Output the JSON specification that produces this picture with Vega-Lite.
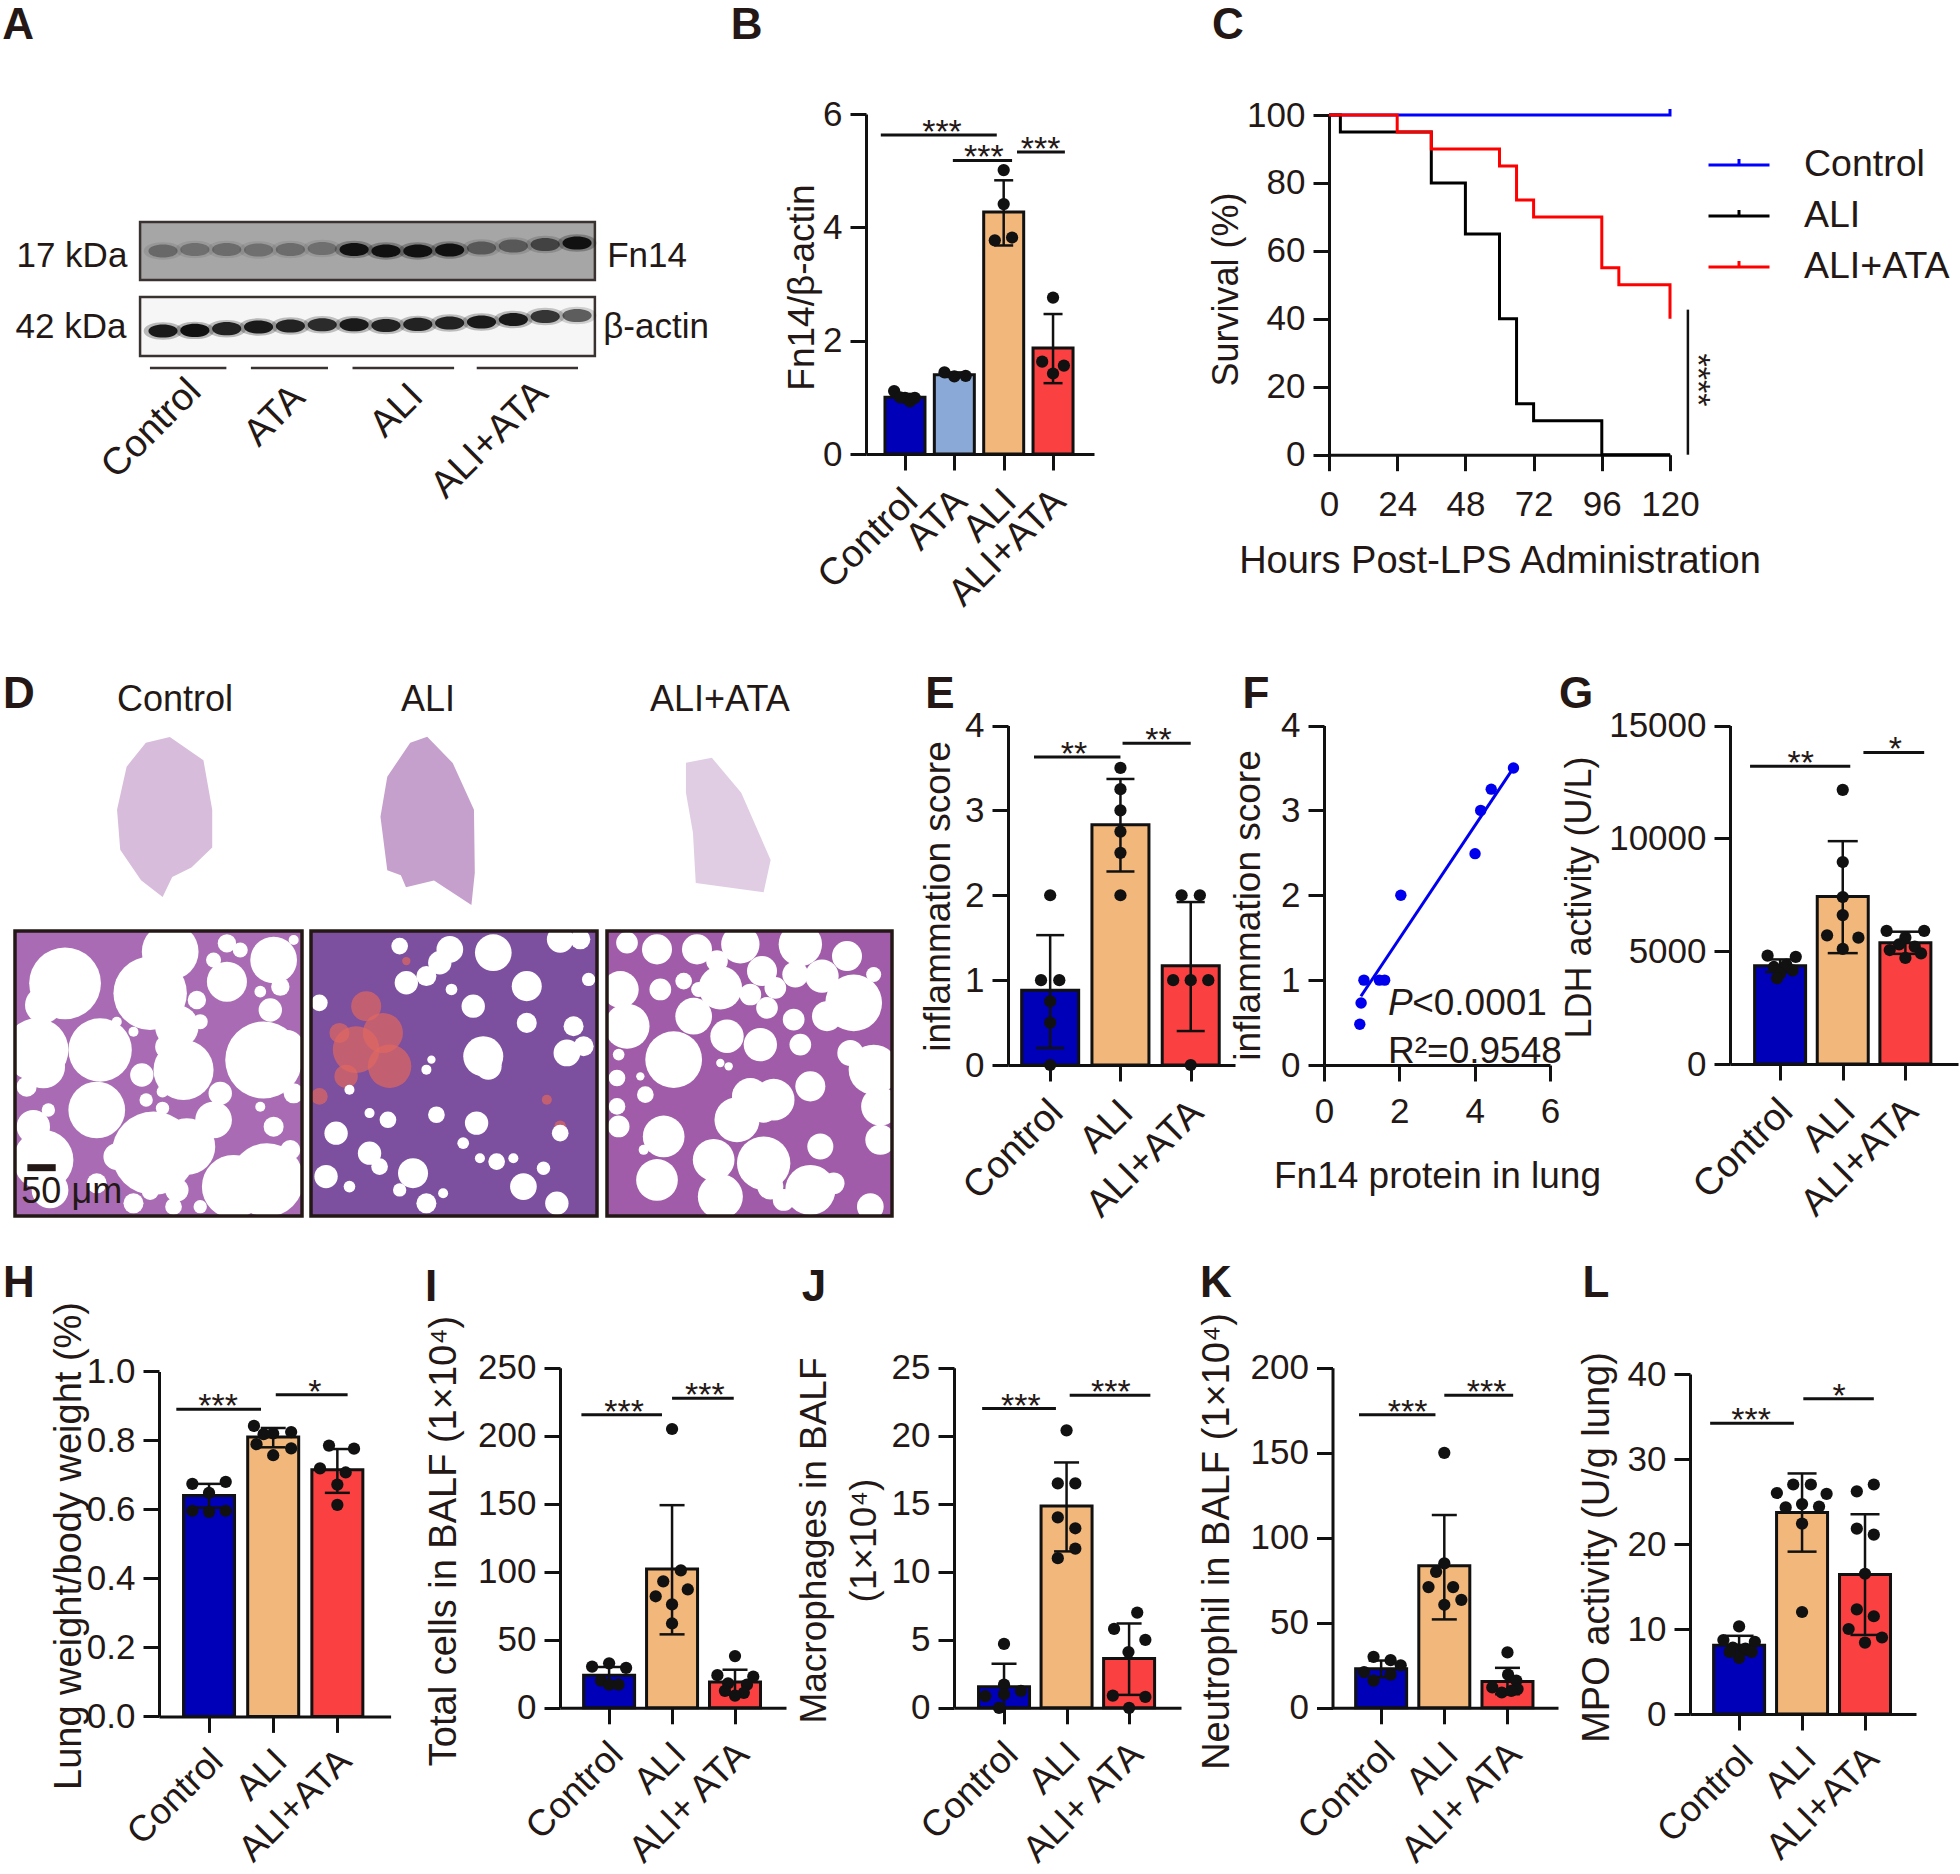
{
"$schema":"https://vega.github.io/schema/vega-lite/v6.json",
"width":1960,"height":1874,"padding":0,"autosize":{"type":"none"},"background":"white",
"config":{"font":"Liberation Sans","view":{"stroke":null},"axis":{"grid":false,"domainColor":"#111","domainWidth":3,"tickColor":"#111","tickWidth":3,"tickSize":16,"labelColor":"#231815","titleColor":"#231815","labelFontSize":35,"titleFontSize":37,"titleFontWeight":"normal","labelPadding":8,"labelOverlap":false,"labelBound":false,"labelFlush":false,"labelFont":"Liberation Sans","titleFont":"Liberation Sans","titleBaseline":"middle","tickRound":true},"text":{"font":"Liberation Sans","color":"#231815"}},
"resolve":{"scale":{"x":"independent","y":"independent"},"axis":{"x":"independent","y":"independent"}},
"layer":[
{"data":{"values":[
{"kind":"frame","x":0.28,"x2":14.56,"y":0,"y2":43.3,"c":"#a6a6a6"},{"kind":"frame","x":0.28,"x2":14.56,"y":56,"y2":100,"c":"#f6f6f6"},
{"kind":"band","x":1,"y":21.6,"s":0.35},{"kind":"band","x":2,"y":20.5,"s":0.3},{"kind":"band","x":3,"y":20.5,"s":0.32},{"kind":"band","x":4,"y":20.9,"s":0.3},{"kind":"band","x":5,"y":20.5,"s":0.32},{"kind":"band","x":6,"y":19.8,"s":0.3},{"kind":"band","x":7,"y":20.5,"s":1},{"kind":"band","x":8,"y":21.6,"s":1},{"kind":"band","x":9,"y":21.6,"s":1},{"kind":"band","x":10,"y":20.9,"s":1},{"kind":"band","x":11,"y":19.4,"s":0.45},{"kind":"band","x":12,"y":17.9,"s":0.45},{"kind":"band","x":13,"y":16.8,"s":0.6},{"kind":"band","x":14,"y":15.7,"s":1},
{"kind":"band","x":1,"y":81.3,"s":0.95},{"kind":"band","x":2,"y":80.9,"s":1},{"kind":"band","x":3,"y":79.6,"s":0.9},{"kind":"band","x":4,"y":78.4,"s":0.95},{"kind":"band","x":5,"y":77.6,"s":0.9},{"kind":"band","x":6,"y":76.7,"s":0.85},{"kind":"band","x":7,"y":76.7,"s":0.95},{"kind":"band","x":8,"y":77.2,"s":0.9},{"kind":"band","x":9,"y":76.4,"s":0.9},{"kind":"band","x":10,"y":75.4,"s":0.9},{"kind":"band","x":11,"y":74.6,"s":0.95},{"kind":"band","x":12,"y":72.8,"s":0.95},{"kind":"band","x":13,"y":70.5,"s":0.8},{"kind":"band","x":14,"y":69.8,"s":0.6},
{"kind":"line","x":0.59,"x2":2.99,"y":109},{"kind":"line","x":3.76,"x2":6.18,"y":109},{"kind":"line","x":6.95,"x2":10.14,"y":109},{"kind":"line","x":10.85,"x2":14.03,"y":109},
{"kind":"label","x":-1.86,"y":25.4,"t":"17 kDa"},{"kind":"label","x":-1.89,"y":78.4,"t":"42 kDa"},{"kind":"label","x":16.2,"y":25.4,"t":"Fn14"},{"kind":"label","x":16.48,"y":78.4,"t":"β-actin"},
{"kind":"rot","x":0.65,"y":154.5,"t":"Control"},{"kind":"rot","x":4.52,"y":144.8,"t":"ATA"},{"kind":"rot","x":8.35,"y":141,"t":"ALI"},{"kind":"rot","x":11.27,"y":162.7,"t":"ALI+ATA"}
]},
"encoding":{"x":{"field":"x","type":"quantitative","axis":null,"scale":{"domain":[0,15],"range":[131.15,608.9],"nice":false}},"y":{"field":"y","type":"quantitative","axis":null,"stack":null,"scale":{"domain":[0,100],"range":[222,356],"nice":false}}},
"layer":[
{"transform":[{"filter":"datum.kind=='frame'"}],"mark":{"type":"rect","stroke":"#3a3230","strokeWidth":2.5},"encoding":{"x2":{"field":"x2"},"y2":{"field":"y2"},"fill":{"field":"c","type":"nominal","scale":null}}},
{"transform":[{"filter":"datum.kind=='band'"}],"mark":{"type":"point","filled":true,"color":"#111","size":1500,"shape":"M-1,0C-1,-0.6 1,-0.6 1,0C1,0.6 -1,0.6 -1,0Z"},"encoding":{"fillOpacity":{"field":"s","type":"quantitative","legend":null,"scale":{"domain":[0,1],"range":[0,0.4]}}}},
{"transform":[{"filter":"datum.kind=='band'"}],"mark":{"type":"point","filled":true,"color":"#111","size":850,"shape":"M-1,0C-1,-0.6 1,-0.6 1,0C1,0.6 -1,0.6 -1,0Z"},"encoding":{"opacity":{"field":"s","type":"quantitative","legend":null,"scale":{"domain":[0,1],"range":[0,1]}}}},
{"transform":[{"filter":"datum.kind=='line'"}],"mark":{"type":"rule","color":"#3a3230","strokeWidth":2.5},"encoding":{"x2":{"field":"x2"}}},
{"transform":[{"filter":"datum.kind=='label'"}],"mark":{"type":"text","fontSize":35,"align":"center","baseline":"middle"},"encoding":{"text":{"field":"t"}}},
{"transform":[{"filter":"datum.kind=='rot'"}],"mark":{"type":"text","fontSize":38,"align":"center","baseline":"middle","angle":315},"encoding":{"text":{"field":"t"}}}
]},
{"data":{"values":[
{"kind":"t","x":0.92,"y":1.4,"t":"A"},{"kind":"t","x":38.1,"y":1.4,"t":"B"},{"kind":"t","x":62.65,"y":1.4,"t":"C"},{"kind":"t","x":0.97,"y":37.1,"t":"D"},{"kind":"t","x":47.96,"y":37.1,"t":"E"},{"kind":"t","x":64.08,"y":37.1,"t":"F"},{"kind":"t","x":80.41,"y":37.1,"t":"G"},{"kind":"t","x":0.97,"y":68.5,"t":"H"},{"kind":"t","x":21.99,"y":68.75,"t":"I"},{"kind":"t","x":41.53,"y":68.75,"t":"J"},{"kind":"t","x":62.04,"y":68.5,"t":"K"},{"kind":"t","x":81.43,"y":68.5,"t":"L"},
{"kind":"d","x":8.93,"y":37.35,"t":"Control"},{"kind":"d","x":21.84,"y":37.35,"t":"ALI"},{"kind":"d","x":36.73,"y":37.35,"t":"ALI+ATA"},
{"kind":"l1","x":8.42,"y":43.6},{"kind":"l2","x":21.84,"y":43.76},{"kind":"l3","x":37.14,"y":44.02}
]},
"encoding":{"x":{"field":"x","type":"quantitative","axis":null,"scale":{"domain":[0,100],"range":[0,1960],"nice":false}},"y":{"field":"y","type":"quantitative","axis":null,"stack":null,"scale":{"domain":[0,100],"range":[0,1874],"nice":false}}},
"layer":[
{"transform":[{"filter":"datum.kind=='t'"}],"mark":{"type":"text","fontSize":44,"fontWeight":"bold","align":"center","baseline":"middle"},"encoding":{"text":{"field":"t"}}},
{"transform":[{"filter":"datum.kind=='d'"}],"mark":{"type":"text","fontSize":36,"align":"center","baseline":"middle"},"encoding":{"text":{"field":"t"}}},
{"transform":[{"filter":"datum.kind=='l1'"}],"mark":{"type":"point","filled":true,"opacity":1,"color":"#d8bcdb","size":25600,"shape":"M0.06,-1L0.48,-0.71L0.59,-0.09L0.59,0.38L0.33,0.63L0.09,0.75L-0.03,1L-0.3,0.79L-0.56,0.41L-0.6,-0.09L-0.48,-0.63L-0.24,-0.93Z"}},
{"transform":[{"filter":"datum.kind=='l2'"}],"mark":{"type":"point","filled":true,"opacity":1,"color":"#c6a0cc","size":28900,"shape":"M-0.01,-0.98L0.29,-0.67L0.54,-0.12L0.55,0.62L0.51,1L0.07,0.71L-0.26,0.79L-0.32,0.65L-0.48,0.59L-0.56,-0.04L-0.48,-0.51L-0.21,-0.91Z"}},
{"transform":[{"filter":"datum.kind=='l3'"}],"mark":{"type":"point","filled":true,"opacity":1,"color":"#e0cde4","size":19600,"shape":"M-0.6,-0.89L-0.23,-0.96L0.19,-0.46L0.61,0.5L0.51,0.96L-0.46,0.83L-0.5,0.11L-0.6,-0.46Z"}}
]},
{"data":{"values":[
{"kind":"frame","x":45,"x2":905,"y":33,"y2":888},
{"kind":"hole","x":195,"y":190,"d":215},{"kind":"hole","x":130,"y":255,"d":110},{"kind":"hole","x":510,"y":95,"d":170},{"kind":"hole","x":450,"y":220,"d":220},{"kind":"hole","x":530,"y":320,"d":130},{"kind":"hole","x":680,"y":70,"d":55},{"kind":"hole","x":640,"y":120,"d":45},{"kind":"hole","x":720,"y":90,"d":45},{"kind":"hole","x":820,"y":120,"d":140},{"kind":"hole","x":880,"y":60,"d":30},{"kind":"hole","x":680,"y":185,"d":120},{"kind":"hole","x":590,"y":240,"d":55},{"kind":"hole","x":600,"y":305,"d":45},{"kind":"hole","x":810,"y":270,"d":70},{"kind":"hole","x":840,"y":200,"d":55},{"kind":"hole","x":780,"y":215,"d":35},{"kind":"hole","x":790,"y":420,"d":230},{"kind":"hole","x":860,"y":380,"d":100},{"kind":"hole","x":550,"y":450,"d":180},{"kind":"hole","x":500,"y":380,"d":70},{"kind":"hole","x":110,"y":390,"d":190},{"kind":"hole","x":300,"y":390,"d":190},{"kind":"hole","x":130,"y":440,"d":130},{"kind":"hole","x":80,"y":500,"d":60},{"kind":"hole","x":145,"y":570,"d":40},{"kind":"hole","x":290,"y":570,"d":170},{"kind":"hole","x":100,"y":620,"d":100},{"kind":"hole","x":460,"y":700,"d":250},{"kind":"hole","x":560,"y":680,"d":170},{"kind":"hole","x":350,"y":710,"d":80},{"kind":"hole","x":130,"y":720,"d":180},{"kind":"hole","x":800,"y":780,"d":220},{"kind":"hole","x":700,"y":800,"d":190},{"kind":"hole","x":820,"y":620,"d":60},{"kind":"hole","x":660,"y":520,"d":70},{"kind":"hole","x":530,"y":810,"d":70},{"kind":"hole","x":450,"y":815,"d":50},{"kind":"hole","x":400,"y":850,"d":60},{"kind":"hole","x":290,"y":790,"d":60},{"kind":"hole","x":520,"y":860,"d":50},{"kind":"hole","x":600,"y":860,"d":40},{"kind":"hole","x":425,"y":465,"d":70},{"kind":"hole","x":487,"y":515,"d":35},{"kind":"hole","x":438,"y":540,"d":40},{"kind":"hole","x":487,"y":565,"d":40},{"kind":"hole","x":400,"y":335,"d":30},{"kind":"hole","x":350,"y":305,"d":30},{"kind":"hole","x":150,"y":810,"d":110},{"kind":"hole","x":780,"y":560,"d":30},{"kind":"hole","x":640,"y":600,"d":110},{"kind":"hole","x":880,"y":520,"d":60},{"kind":"hole","x":870,"y":690,"d":60},
{"kind":"bar","x":82,"x2":167,"y":743},{"kind":"lab","x":215,"y":815,"t":"50 μm"}
]},
"encoding":{"x":{"field":"x","type":"quantitative","axis":null,"scale":{"domain":[45,905],"range":[15,302],"nice":false}},"y":{"field":"y","type":"quantitative","axis":null,"stack":null,"scale":{"domain":[33,888],"range":[931,1216],"nice":false}}},
"layer":[
{"transform":[{"filter":"datum.kind=='frame'"}],"mark":{"type":"rect","fill":"#a96cb4"},"encoding":{"x2":{"field":"x2"},"y2":{"field":"y2"}}},
{"transform":[{"filter":"datum.kind=='hole'"}],"mark":{"type":"point","filled":true,"opacity":1,"color":"white"},"encoding":{"size":{"field":"d","type":"quantitative","legend":null,"scale":{"type":"pow","exponent":2,"domain":[0,860],"range":[0,82369]}}}},
{"transform":[{"filter":"datum.kind=='frame'"}],"mark":{"type":"rect","fill":"transparent","stroke":"#231815","strokeWidth":3.5},"encoding":{"x2":{"field":"x2"},"y2":{"field":"y2"}}},
{"transform":[{"filter":"datum.kind=='bar'"}],"mark":{"type":"rule","color":"#231815","strokeWidth":7},"encoding":{"x2":{"field":"x2"}}},
{"transform":[{"filter":"datum.kind=='lab'"}],"mark":{"type":"text","fontSize":36,"align":"center","baseline":"middle"},"encoding":{"text":{"field":"t"}}}
]},
{"data":{"values":[
{"kind":"frame","x":35,"x2":890,"y":35,"y2":888},
{"kind":"or","x":170,"y":390,"d":140},{"kind":"or","x":270,"y":440,"d":130},{"kind":"or","x":250,"y":340,"d":120},{"kind":"or","x":200,"y":260,"d":90},{"kind":"or","x":60,"y":530,"d":50},{"kind":"or","x":140,"y":470,"d":70},{"kind":"or","x":320,"y":125,"d":25},{"kind":"or","x":780,"y":620,"d":35},{"kind":"or","x":740,"y":540,"d":30},{"kind":"or","x":120,"y":340,"d":60},
{"kind":"hole","x":300,"y":80,"d":50},{"kind":"hole","x":450,"y":90,"d":80},{"kind":"hole","x":420,"y":130,"d":70},{"kind":"hole","x":580,"y":100,"d":110},{"kind":"hole","x":320,"y":190,"d":70},{"kind":"hole","x":380,"y":170,"d":60},{"kind":"hole","x":455,"y":210,"d":35},{"kind":"hole","x":520,"y":260,"d":70},{"kind":"hole","x":680,"y":200,"d":90},{"kind":"hole","x":780,"y":60,"d":80},{"kind":"hole","x":840,"y":60,"d":60},{"kind":"hole","x":865,"y":180,"d":40},{"kind":"hole","x":680,"y":310,"d":60},{"kind":"hole","x":820,"y":320,"d":60},{"kind":"hole","x":800,"y":400,"d":80},{"kind":"hole","x":850,"y":380,"d":60},{"kind":"hole","x":60,"y":250,"d":50},{"kind":"hole","x":550,"y":410,"d":120},{"kind":"hole","x":565,"y":440,"d":80},{"kind":"hole","x":380,"y":450,"d":30},{"kind":"hole","x":395,"y":420,"d":25},{"kind":"hole","x":150,"y":510,"d":30},{"kind":"hole","x":210,"y":580,"d":30},{"kind":"hole","x":265,"y":600,"d":50},{"kind":"hole","x":410,"y":585,"d":50},{"kind":"hole","x":110,"y":640,"d":70},{"kind":"hole","x":530,"y":610,"d":70},{"kind":"hole","x":490,"y":670,"d":35},{"kind":"hole","x":780,"y":640,"d":50},{"kind":"hole","x":210,"y":700,"d":70},{"kind":"hole","x":240,"y":740,"d":50},{"kind":"hole","x":80,"y":770,"d":70},{"kind":"hole","x":150,"y":800,"d":35},{"kind":"hole","x":340,"y":760,"d":90},{"kind":"hole","x":300,"y":810,"d":40},{"kind":"hole","x":590,"y":725,"d":50},{"kind":"hole","x":540,"y":715,"d":30},{"kind":"hole","x":640,"y":715,"d":30},{"kind":"hole","x":670,"y":800,"d":80},{"kind":"hole","x":770,"y":850,"d":70},{"kind":"hole","x":380,"y":850,"d":60},{"kind":"hole","x":430,"y":820,"d":30},{"kind":"hole","x":730,"y":745,"d":40}
]},
"encoding":{"x":{"field":"x","type":"quantitative","axis":null,"scale":{"domain":[35,890],"range":[311,597],"nice":false}},"y":{"field":"y","type":"quantitative","axis":null,"stack":null,"scale":{"domain":[35,888],"range":[931,1216],"nice":false}}},
"layer":[
{"transform":[{"filter":"datum.kind=='frame'"}],"mark":{"type":"rect","fill":"#7c4f9f"},"encoding":{"x2":{"field":"x2"},"y2":{"field":"y2"}}},
{"transform":[{"filter":"datum.kind=='or'"}],"mark":{"type":"point","filled":true,"opacity":0.7,"color":"#e0685f"},"encoding":{"size":{"field":"d","type":"quantitative","legend":null,"scale":{"type":"pow","exponent":2,"domain":[0,860],"range":[0,82369]}}}},
{"transform":[{"filter":"datum.kind=='hole'"}],"mark":{"type":"point","filled":true,"opacity":1,"color":"white"},"encoding":{"size":{"field":"d","type":"quantitative","legend":null,"scale":{"type":"pow","exponent":2,"domain":[0,860],"range":[0,82369]}}}},
{"transform":[{"filter":"datum.kind=='frame'"}],"mark":{"type":"rect","fill":"transparent","stroke":"#231815","strokeWidth":3.5},"encoding":{"x2":{"field":"x2"},"y2":{"field":"y2"}}}
]},
{"data":{"values":[
{"kind":"frame","x":40,"x2":895,"y":35,"y2":888},
{"kind":"hole","x":190,"y":90,"d":90},{"kind":"hole","x":310,"y":90,"d":90},{"kind":"hole","x":440,"y":75,"d":115},{"kind":"hole","x":620,"y":75,"d":130},{"kind":"hole","x":100,"y":70,"d":65},{"kind":"hole","x":370,"y":125,"d":65},{"kind":"hole","x":505,"y":155,"d":90},{"kind":"hole","x":605,"y":165,"d":78},{"kind":"hole","x":685,"y":170,"d":100},{"kind":"hole","x":760,"y":110,"d":90},{"kind":"hole","x":840,"y":165,"d":45},{"kind":"hole","x":200,"y":210,"d":65},{"kind":"hole","x":270,"y":185,"d":50},{"kind":"hole","x":315,"y":210,"d":45},{"kind":"hole","x":380,"y":205,"d":130},{"kind":"hole","x":470,"y":225,"d":65},{"kind":"hole","x":545,"y":205,"d":65},{"kind":"hole","x":520,"y":265,"d":65},{"kind":"hole","x":600,"y":300,"d":65},{"kind":"hole","x":80,"y":210,"d":110},{"kind":"hole","x":780,"y":250,"d":170},{"kind":"hole","x":300,"y":290,"d":110},{"kind":"hole","x":100,"y":320,"d":135},{"kind":"hole","x":400,"y":350,"d":100},{"kind":"hole","x":500,"y":375,"d":100},{"kind":"hole","x":620,"y":375,"d":65},{"kind":"hole","x":700,"y":290,"d":90},{"kind":"hole","x":770,"y":400,"d":78},{"kind":"hole","x":840,"y":450,"d":150},{"kind":"hole","x":860,"y":560,"d":115},{"kind":"hole","x":240,"y":420,"d":170},{"kind":"hole","x":75,"y":405,"d":35},{"kind":"hole","x":380,"y":430,"d":25},{"kind":"hole","x":405,"y":440,"d":25},{"kind":"hole","x":70,"y":475,"d":50},{"kind":"hole","x":155,"y":525,"d":50},{"kind":"hole","x":140,"y":470,"d":25},{"kind":"hole","x":650,"y":500,"d":90},{"kind":"hole","x":470,"y":530,"d":110},{"kind":"hole","x":540,"y":540,"d":125},{"kind":"hole","x":430,"y":600,"d":135},{"kind":"hole","x":510,"y":570,"d":78},{"kind":"hole","x":210,"y":650,"d":125},{"kind":"hole","x":75,"y":620,"d":65},{"kind":"hole","x":70,"y":560,"d":50},{"kind":"hole","x":150,"y":690,"d":30},{"kind":"hole","x":360,"y":720,"d":125},{"kind":"hole","x":510,"y":730,"d":160},{"kind":"hole","x":680,"y":680,"d":78},{"kind":"hole","x":190,"y":780,"d":125},{"kind":"hole","x":380,"y":830,"d":135},{"kind":"hole","x":650,"y":810,"d":150},{"kind":"hole","x":530,"y":800,"d":78},{"kind":"hole","x":720,"y":790,"d":65},{"kind":"hole","x":570,"y":840,"d":65},{"kind":"hole","x":830,"y":860,"d":80},{"kind":"hole","x":860,"y":660,"d":90}
]},
"encoding":{"x":{"field":"x","type":"quantitative","axis":null,"scale":{"domain":[40,895],"range":[607,892],"nice":false}},"y":{"field":"y","type":"quantitative","axis":null,"stack":null,"scale":{"domain":[35,888],"range":[931,1216],"nice":false}}},
"layer":[
{"transform":[{"filter":"datum.kind=='frame'"}],"mark":{"type":"rect","fill":"#a05ca8"},"encoding":{"x2":{"field":"x2"},"y2":{"field":"y2"}}},
{"transform":[{"filter":"datum.kind=='hole'"}],"mark":{"type":"point","filled":true,"opacity":1,"color":"white"},"encoding":{"size":{"field":"d","type":"quantitative","legend":null,"scale":{"type":"pow","exponent":2,"domain":[0,860],"range":[0,82369]}}}},
{"transform":[{"filter":"datum.kind=='frame'"}],"mark":{"type":"rect","fill":"transparent","stroke":"#231815","strokeWidth":3.5},"encoding":{"x2":{"field":"x2"},"y2":{"field":"y2"}}}
]},
{"data":{"values":[
{"kind":"bar","x":1,"group":"Control","y":1.0,"lo":0.95,"hi":1.06},{"kind":"bar","x":2,"group":"ATA","y":1.4,"lo":1.36,"hi":1.44},{"kind":"bar","x":3,"group":"ALI","y":4.27,"lo":3.68,"hi":4.83},{"kind":"bar","x":4,"group":"ALI+ATA","y":1.87,"lo":1.25,"hi":2.47},
{"kind":"pt","x":0.78,"y":1.11},{"kind":"pt","x":1,"y":0.99},{"kind":"pt","x":1.1,"y":0.93},{"kind":"pt","x":0.9,"y":1.0},{"kind":"pt","x":1.2,"y":0.99},
{"kind":"pt","x":1.8,"y":1.44},{"kind":"pt","x":2,"y":1.37},{"kind":"pt","x":2.23,"y":1.38},
{"kind":"pt","x":3,"y":5.01},{"kind":"pt","x":3,"y":4.41},{"kind":"pt","x":2.82,"y":3.77},{"kind":"pt","x":3.17,"y":3.82},
{"kind":"pt","x":4,"y":2.76},{"kind":"pt","x":3.78,"y":1.63},{"kind":"pt","x":4.22,"y":1.56},{"kind":"pt","x":4,"y":1.42},
{"kind":"sig","x":0.51,"x2":2.86,"y":5.63},{"kind":"sig","x":1.97,"x2":3.17,"y":5.18},{"kind":"sig","x":3.27,"x2":4.24,"y":5.33},
{"kind":"star","x":1.75,"y":5.63,"t":"***"},{"kind":"star","x":2.6,"y":5.18,"t":"***"},{"kind":"star","x":3.75,"y":5.33,"t":"***"}
]},
"encoding":{"x":{"field":"x","type":"quantitative","scale":{"domain":[0.21,4.83],"range":[866,1094],"nice":false,"padding":0},"axis":{"orient":"bottom","offset":-1420,"values":[1,2,3,4],"labelExpr":"['Control','ATA','ALI','ALI+ATA'][datum.value-1]","labelAngle":-45,"labelAlign":"right","labelBaseline":"top","labelFontSize":38,"labelPadding":12,"labelOffset":-7,"title":null}},
"y":{"field":"y","type":"quantitative","stack":null,"scale":{"domain":[0,6],"range":[454,114],"nice":false},"axis":{"orient":"left","offset":-866,"values":[0,2,4,6],"title":"Fn14/β-actin","titleFontSize":37,"titleX":-64,"titleY":287}}},
"layer":[
{"transform":[{"filter":"datum.kind=='bar'"}],"mark":{"type":"bar","orient":"vertical","width":40,"stroke":"#111","strokeWidth":3},"encoding":{"fill":{"field":"group","type":"nominal","legend":null,"scale":{"domain":["Control","ATA","ALI","ALI+ATA"],"range":["#0000b8","#8aa9d6","#f2b77a","#fa4040"]}}}},
{"transform":[{"filter":"datum.kind=='bar'"}],"mark":{"type":"rule","color":"#111","strokeWidth":2.5},"encoding":{"y2":{"field":"hi"}}},
{"transform":[{"filter":"datum.kind=='bar'"}],"mark":{"type":"rule","color":"#111","strokeWidth":2.5},"encoding":{"y2":{"field":"lo"}}},
{"transform":[{"filter":"datum.kind=='bar'"},{"fold":["lo","hi"],"as":["k","y"]}],"mark":{"type":"tick","orient":"horizontal","size":19,"thickness":2.5,"color":"#111","opacity":1}},
{"transform":[{"filter":"datum.kind=='pt'"}],"mark":{"type":"point","filled":true,"opacity":1,"color":"#111","size":150}},
{"transform":[{"filter":"datum.kind=='sig'"}],"mark":{"type":"rule","color":"#111","strokeWidth":3},"encoding":{"x2":{"field":"x2"}}},
{"transform":[{"filter":"datum.kind=='star'"}],"mark":{"type":"text","fontSize":34,"align":"center","baseline":"alphabetic","dy":8},"encoding":{"text":{"field":"t"}}}
]},
{"data":{"values":[
{"s":"Control","h":0,"p":100},{"s":"Control","h":120,"p":100},{"s":"Control","h":120,"p":101.8},
{"s":"ALI","h":0,"p":100},{"s":"ALI","h":4,"p":95},{"s":"ALI","h":36,"p":80},{"s":"ALI","h":48,"p":65},{"s":"ALI","h":60,"p":40},{"s":"ALI","h":66,"p":15},{"s":"ALI","h":72,"p":10},{"s":"ALI","h":96,"p":0},{"s":"ALI","h":120,"p":0},
{"s":"ALI+ATA","h":0,"p":100},{"s":"ALI+ATA","h":24,"p":95},{"s":"ALI+ATA","h":36,"p":90},{"s":"ALI+ATA","h":60,"p":85},{"s":"ALI+ATA","h":66,"p":75},{"s":"ALI+ATA","h":72,"p":70},{"s":"ALI+ATA","h":96,"p":55},{"s":"ALI+ATA","h":102,"p":50},{"s":"ALI+ATA","h":120,"p":50},{"s":"ALI+ATA","h":120,"p":40}
]},
"encoding":{"x":{"field":"h","type":"quantitative","scale":{"domain":[0,120],"range":[1329,1670],"nice":false},"axis":{"orient":"bottom","offset":-1419.3,"values":[0,24,48,72,96,120],"labelAngle":0,"labelAlign":"center","labelPadding":17,"title":"Hours Post-LPS Administration","titleFontSize":38,"titleY":107}},
"y":{"field":"p","type":"quantitative","stack":null,"scale":{"domain":[0,100],"range":[454.7,115],"nice":false},"axis":{"orient":"left","offset":-1329,"values":[0,20,40,60,80,100],"title":"Survival (%)","titleFontSize":36,"titleX":-103,"titleY":289}}},
"layer":[
{"mark":{"type":"line","interpolate":"step-after","strokeWidth":3},"encoding":{"stroke":{"field":"s","type":"nominal","scale":{"domain":["Control","ALI","ALI+ATA"],"range":["#0000ff","#000000","#ff0000"]},"legend":{"orient":"none","legendX":1707,"legendY":133,"title":null,"symbolType":"M-1,0L1,0M0,0L0,-0.2","symbolSize":3721,"symbolStrokeWidth":3,"labelFontSize":37.5,"labelColor":"#231815","labelOffset":33,"rowPadding":-14,"labelFont":"Liberation Sans"}}}}
]},
{"data":{"values":[{"h":126.3,"p":0,"p2":42.7},{"h":129.5,"p":22,"t":"****"}]},
"encoding":{"x":{"field":"h","type":"quantitative","axis":null,"scale":{"domain":[0,120],"range":[1329,1670],"nice":false}},"y":{"field":"p","type":"quantitative","axis":null,"stack":null,"scale":{"domain":[0,100],"range":[454.7,115],"nice":false}}},
"layer":[
{"transform":[{"filter":"datum.p2>0"}],"mark":{"type":"rule","color":"#111","strokeWidth":2.5},"encoding":{"y2":{"field":"p2"}}},
{"transform":[{"filter":"isValid(datum.t)"}],"mark":{"type":"text","fontSize":34,"angle":90,"align":"center","baseline":"middle"},"encoding":{"text":{"field":"t"}}}
]},
{"data":{"values":[
{"kind":"bar","x":1,"group":"Control","y":0.88,"lo":0.2,"hi":1.53},{"kind":"bar","x":2,"group":"ALI","y":2.83,"lo":2.28,"hi":3.37},{"kind":"bar","x":3,"group":"ALI+ATA","y":1.17,"lo":0.4,"hi":1.92},
{"kind":"pt","x":1,"y":2},{"kind":"pt","x":0.87,"y":1},{"kind":"pt","x":1.13,"y":1},{"kind":"pt","x":1,"y":0.75},{"kind":"pt","x":1,"y":0.5},{"kind":"pt","x":1,"y":0},
{"kind":"pt","x":2,"y":3.5},{"kind":"pt","x":2,"y":3.25},{"kind":"pt","x":2,"y":3},{"kind":"pt","x":2,"y":2.75},{"kind":"pt","x":2,"y":2.5},{"kind":"pt","x":2,"y":2},
{"kind":"pt","x":2.87,"y":2},{"kind":"pt","x":3.13,"y":2},{"kind":"pt","x":2.75,"y":1},{"kind":"pt","x":3,"y":1},{"kind":"pt","x":3.25,"y":1},{"kind":"pt","x":3,"y":0},
{"kind":"sig","x":0.77,"x2":2,"y":3.63},{"kind":"sig","x":2.03,"x2":3,"y":3.79},
{"kind":"star","x":1.34,"y":3.63,"t":"**"},{"kind":"star","x":2.54,"y":3.79,"t":"**"}
]},
"encoding":{"x":{"field":"x","type":"quantitative","scale":{"domain":[0.4,3.63],"range":[1008,1235],"nice":false,"padding":0},"axis":{"orient":"bottom","offset":-809,"values":[1,2,3],"labelExpr":"['Control','ALI','ALI+ATA'][datum.value-1]","labelAngle":-45,"labelAlign":"right","labelBaseline":"top","labelFontSize":38,"labelPadding":12,"labelOffset":-7,"title":null}},
"y":{"field":"y","type":"quantitative","stack":null,"scale":{"domain":[0,4],"range":[1065,725.5],"nice":false},"axis":{"orient":"left","offset":-1008,"values":[0,1,2,3,4],"title":"inflammation score","titleX":-70,"titleY":896}}},
"layer":[
{"transform":[{"filter":"datum.kind=='bar'"}],"mark":{"type":"bar","orient":"vertical","width":57,"stroke":"#111","strokeWidth":3},"encoding":{"fill":{"field":"group","type":"nominal","legend":null,"scale":{"domain":["Control","ATA","ALI","ALI+ATA"],"range":["#0000b8","#8aa9d6","#f2b77a","#fa4040"]}}}},
{"transform":[{"filter":"datum.kind=='bar'"}],"mark":{"type":"rule","color":"#111","strokeWidth":2.5},"encoding":{"y2":{"field":"hi"}}},
{"transform":[{"filter":"datum.kind=='bar'"}],"mark":{"type":"rule","color":"#111","strokeWidth":2.5},"encoding":{"y2":{"field":"lo"}}},
{"transform":[{"filter":"datum.kind=='bar'"},{"fold":["lo","hi"],"as":["k","y"]}],"mark":{"type":"tick","orient":"horizontal","size":28,"thickness":2.5,"color":"#111","opacity":1}},
{"transform":[{"filter":"datum.kind=='pt'"}],"mark":{"type":"point","filled":true,"opacity":1,"color":"#111","size":150}},
{"transform":[{"filter":"datum.kind=='sig'"}],"mark":{"type":"rule","color":"#111","strokeWidth":3},"encoding":{"x2":{"field":"x2"}}},
{"transform":[{"filter":"datum.kind=='star'"}],"mark":{"type":"text","fontSize":34,"align":"center","baseline":"alphabetic","dy":8},"encoding":{"text":{"field":"t"}}}
]},
{"data":{"values":[
{"kind":"pt","x":0.95,"y":0.48},{"kind":"pt","x":0.985,"y":0.73},{"kind":"pt","x":1.06,"y":1},{"kind":"pt","x":1.47,"y":1},{"kind":"pt","x":1.61,"y":1},{"kind":"pt","x":2.04,"y":2},{"kind":"pt","x":4.01,"y":2.49},{"kind":"pt","x":4.16,"y":3},{"kind":"pt","x":4.44,"y":3.25},{"kind":"pt","x":5.03,"y":3.5},
{"kind":"fit","x":0.98,"y":0.81},{"kind":"fit","x":5.03,"y":3.5},
{"kind":"it","x":1.7,"y":0.72,"t":"P"},{"kind":"tx","x":2.34,"y":0.72,"t":"<0.0001"},{"kind":"tx","x":1.7,"y":0.15,"t":"R²=0.9548"}
]},
"encoding":{"x":{"field":"x","type":"quantitative","scale":{"domain":[0,6],"range":[1324,1550],"nice":false},"axis":{"orient":"bottom","offset":-809,"values":[0,2,4,6],"labelAngle":0,"labelAlign":"center","labelPadding":13,"title":"Fn14 protein in lung","titleY":111}},
"y":{"field":"y","type":"quantitative","stack":null,"scale":{"domain":[0,4],"range":[1065,725.5],"nice":false},"axis":{"orient":"left","offset":-1324,"values":[0,1,2,3,4],"title":"inflammation score","titleX":-76,"titleY":905}}},
"layer":[
{"transform":[{"filter":"datum.kind=='fit'"}],"mark":{"type":"line","color":"#0000ee","strokeWidth":3}},
{"transform":[{"filter":"datum.kind=='pt'"}],"mark":{"type":"point","filled":true,"opacity":1,"color":"#0000ee","size":130}},
{"transform":[{"filter":"datum.kind=='it'"}],"mark":{"type":"text","fontSize":37,"fontStyle":"italic","align":"left","baseline":"middle"},"encoding":{"text":{"field":"t"}}},
{"transform":[{"filter":"datum.kind=='tx'"}],"mark":{"type":"text","fontSize":37,"align":"left","baseline":"middle"},"encoding":{"text":{"field":"t"}}}
]},
{"data":{"values":[
{"kind":"bar","x":1,"group":"Control","y":4356,"lo":4080,"hi":4634},{"kind":"bar","x":2,"group":"ALI","y":7418,"lo":4913,"hi":9875},{"kind":"bar","x":3,"group":"ALI+ATA","y":5371,"lo":4880,"hi":5862},
{"kind":"pt","x":0.8,"y":4800},{"kind":"pt","x":1.25,"y":4750},{"kind":"pt","x":1.1,"y":4400},{"kind":"pt","x":0.9,"y":4300},{"kind":"pt","x":1.2,"y":4150},{"kind":"pt","x":1,"y":4000},{"kind":"pt","x":0.95,"y":3800},
{"kind":"pt","x":2,"y":12150},{"kind":"pt","x":2,"y":8950},{"kind":"pt","x":2,"y":7400},{"kind":"pt","x":2,"y":6600},{"kind":"pt","x":1.75,"y":5700},{"kind":"pt","x":2.25,"y":5600},{"kind":"pt","x":2,"y":5100},
{"kind":"pt","x":2.7,"y":5900},{"kind":"pt","x":3.3,"y":5900},{"kind":"pt","x":3,"y":5600},{"kind":"pt","x":2.9,"y":5300},{"kind":"pt","x":3.15,"y":5200},{"kind":"pt","x":2.75,"y":5050},{"kind":"pt","x":3.25,"y":4900},{"kind":"pt","x":3,"y":4700},
{"kind":"sig","x":0.52,"x2":2.12,"y":13197},{"kind":"sig","x":2.33,"x2":3.3,"y":13805},
{"kind":"star","x":1.33,"y":13197,"t":"**"},{"kind":"star","x":2.84,"y":13805,"t":"*"}
]},
"encoding":{"x":{"field":"x","type":"quantitative","scale":{"domain":[0.2,3.84],"range":[1730,1958],"nice":false,"padding":0},"axis":{"orient":"bottom","offset":-810,"values":[1,2,3],"labelExpr":"['Control','ALI','ALI+ATA'][datum.value-1]","labelAngle":-45,"labelAlign":"right","labelBaseline":"top","labelFontSize":38,"labelPadding":12,"labelOffset":-7,"title":null}},
"y":{"field":"y","type":"quantitative","stack":null,"scale":{"domain":[0,15000],"range":[1064,725.5],"nice":false},"axis":{"orient":"left","offset":-1730,"values":[0,5000,10000,15000],"format":"d","title":"LDH activity (U/L)","titleFontSize":36,"titleX":-150.5,"titleY":897}}},
"layer":[
{"transform":[{"filter":"datum.kind=='bar'"}],"mark":{"type":"bar","orient":"vertical","width":51,"stroke":"#111","strokeWidth":3},"encoding":{"fill":{"field":"group","type":"nominal","legend":null,"scale":{"domain":["Control","ATA","ALI","ALI+ATA"],"range":["#0000b8","#8aa9d6","#f2b77a","#fa4040"]}}}},
{"transform":[{"filter":"datum.kind=='bar'"}],"mark":{"type":"rule","color":"#111","strokeWidth":2.5},"encoding":{"y2":{"field":"hi"}}},
{"transform":[{"filter":"datum.kind=='bar'"}],"mark":{"type":"rule","color":"#111","strokeWidth":2.5},"encoding":{"y2":{"field":"lo"}}},
{"transform":[{"filter":"datum.kind=='bar'"},{"fold":["lo","hi"],"as":["k","y"]}],"mark":{"type":"tick","orient":"horizontal","size":30,"thickness":2.5,"color":"#111","opacity":1}},
{"transform":[{"filter":"datum.kind=='pt'"}],"mark":{"type":"point","filled":true,"opacity":1,"color":"#111","size":150}},
{"transform":[{"filter":"datum.kind=='sig'"}],"mark":{"type":"rule","color":"#111","strokeWidth":3},"encoding":{"x2":{"field":"x2"}}},
{"transform":[{"filter":"datum.kind=='star'"}],"mark":{"type":"text","fontSize":34,"align":"center","baseline":"alphabetic","dy":8},"encoding":{"text":{"field":"t"}}}
]},
{"data":{"values":[
{"kind":"bar","x":1,"group":"Control","y":0.64,"lo":0.605,"hi":0.674},{"kind":"bar","x":2,"group":"ALI","y":0.81,"lo":0.78,"hi":0.836},{"kind":"bar","x":3,"group":"ALI+ATA","y":0.715,"lo":0.648,"hi":0.775},
{"kind":"pt","x":0.74,"y":0.674},{"kind":"pt","x":1.26,"y":0.68},{"kind":"pt","x":1,"y":0.648},{"kind":"pt","x":0.74,"y":0.596},{"kind":"pt","x":1,"y":0.593},{"kind":"pt","x":1.26,"y":0.596},
{"kind":"pt","x":1.7,"y":0.842},{"kind":"pt","x":2,"y":0.82},{"kind":"pt","x":2.28,"y":0.824},{"kind":"pt","x":1.85,"y":0.818},{"kind":"pt","x":1.74,"y":0.789},{"kind":"pt","x":2.28,"y":0.777},{"kind":"pt","x":2,"y":0.757},
{"kind":"pt","x":2.87,"y":0.785},{"kind":"pt","x":3.26,"y":0.776},{"kind":"pt","x":2.73,"y":0.719},{"kind":"pt","x":3.13,"y":0.707},{"kind":"pt","x":3,"y":0.672},{"kind":"pt","x":3,"y":0.613},
{"kind":"sig","x":0.49,"x2":1.81,"y":0.89},{"kind":"sig","x":2.04,"x2":3.16,"y":0.932},
{"kind":"star","x":1.14,"y":0.89,"t":"***"},{"kind":"star","x":2.65,"y":0.932,"t":"*"}
]},
"encoding":{"x":{"field":"x","type":"quantitative","scale":{"domain":[0.22,3.83],"range":[159,390.6],"nice":false,"padding":0},"axis":{"orient":"bottom","offset":-157.6,"values":[1,2,3],"labelExpr":"['Control','ALI','ALI+ATA'][datum.value-1]","labelAngle":-45,"labelAlign":"right","labelBaseline":"top","labelFontSize":36.5,"labelPadding":10,"labelOffset":-5,"title":null}},
"y":{"field":"y","type":"quantitative","stack":null,"scale":{"domain":[0,1],"range":[1716.4,1371.4],"nice":false},"axis":{"orient":"left","offset":-159,"values":[0,0.2,0.4,0.6,0.8,1],"format":".1f","title":"Lung weight/body weight (%)","titleFontSize":38,"titleX":-90,"titleY":1545.5}}},
"layer":[
{"transform":[{"filter":"datum.kind=='bar'"}],"mark":{"type":"bar","orient":"vertical","width":51,"stroke":"#111","strokeWidth":3},"encoding":{"fill":{"field":"group","type":"nominal","legend":null,"scale":{"domain":["Control","ATA","ALI","ALI+ATA"],"range":["#0000b8","#8aa9d6","#f2b77a","#fa4040"]}}}},
{"transform":[{"filter":"datum.kind=='bar'"}],"mark":{"type":"rule","color":"#111","strokeWidth":2.5},"encoding":{"y2":{"field":"hi"}}},
{"transform":[{"filter":"datum.kind=='bar'"}],"mark":{"type":"rule","color":"#111","strokeWidth":2.5},"encoding":{"y2":{"field":"lo"}}},
{"transform":[{"filter":"datum.kind=='bar'"},{"fold":["lo","hi"],"as":["k","y"]}],"mark":{"type":"tick","orient":"horizontal","size":25,"thickness":2.5,"color":"#111","opacity":1}},
{"transform":[{"filter":"datum.kind=='pt'"}],"mark":{"type":"point","filled":true,"opacity":1,"color":"#111","size":150}},
{"transform":[{"filter":"datum.kind=='sig'"}],"mark":{"type":"rule","color":"#111","strokeWidth":3},"encoding":{"x2":{"field":"x2"}}},
{"transform":[{"filter":"datum.kind=='star'"}],"mark":{"type":"text","fontSize":34,"align":"center","baseline":"alphabetic","dy":8},"encoding":{"text":{"field":"t"}}}
]},
{"data":{"values":[
{"kind":"bar","x":1,"group":"Control","y":24,"lo":19,"hi":30},{"kind":"bar","x":2,"group":"ALI","y":102,"lo":54,"hi":149},{"kind":"bar","x":3,"group":"ALI+ATA","y":19,"lo":10,"hi":28},
{"kind":"pt","x":0.73,"y":30.3},{"kind":"pt","x":1,"y":32.7},{"kind":"pt","x":1.27,"y":29.4},{"kind":"pt","x":0.87,"y":19.9},{"kind":"pt","x":1,"y":17},{"kind":"pt","x":1.15,"y":17},
{"kind":"pt","x":2,"y":205},{"kind":"pt","x":2.14,"y":101},{"kind":"pt","x":1.86,"y":93},{"kind":"pt","x":2.25,"y":87},{"kind":"pt","x":1.74,"y":82},{"kind":"pt","x":2,"y":76},{"kind":"pt","x":2,"y":62},
{"kind":"pt","x":3,"y":38},{"kind":"pt","x":2.72,"y":24},{"kind":"pt","x":3.29,"y":23},{"kind":"pt","x":2.89,"y":18},{"kind":"pt","x":3.19,"y":17},{"kind":"pt","x":2.84,"y":12.5},{"kind":"pt","x":3.14,"y":11},{"kind":"pt","x":3,"y":9},
{"kind":"sig","x":0.56,"x2":1.84,"y":215.5},{"kind":"sig","x":2,"x2":2.98,"y":227.7},
{"kind":"star","x":1.24,"y":215.5,"t":"***"},{"kind":"star","x":2.52,"y":227.7,"t":"***"}
]},
"encoding":{"x":{"field":"x","type":"quantitative","scale":{"domain":[0.22,3.81],"range":[560,786],"nice":false,"padding":0},"axis":{"orient":"bottom","offset":-166.2,"values":[1,2,3],"labelExpr":"['Control','ALI','ALI+ ATA'][datum.value-1]","labelAngle":-45,"labelAlign":"right","labelBaseline":"top","labelFontSize":37,"labelPadding":12,"labelOffset":-5,"title":null}},
"y":{"field":"y","type":"quantitative","stack":null,"scale":{"domain":[0,250],"range":[1707.8,1367.8],"nice":false},"axis":{"orient":"left","offset":-560,"values":[0,50,100,150,200,250],"title":"Total cells in BALF (1×10⁴)","titleFontSize":38,"titleX":-116,"titleY":1540.5}}},
"layer":[
{"transform":[{"filter":"datum.kind=='bar'"}],"mark":{"type":"bar","orient":"vertical","width":51,"stroke":"#111","strokeWidth":3},"encoding":{"fill":{"field":"group","type":"nominal","legend":null,"scale":{"domain":["Control","ATA","ALI","ALI+ATA"],"range":["#0000b8","#8aa9d6","#f2b77a","#fa4040"]}}}},
{"transform":[{"filter":"datum.kind=='bar'"}],"mark":{"type":"rule","color":"#111","strokeWidth":2.5},"encoding":{"y2":{"field":"hi"}}},
{"transform":[{"filter":"datum.kind=='bar'"}],"mark":{"type":"rule","color":"#111","strokeWidth":2.5},"encoding":{"y2":{"field":"lo"}}},
{"transform":[{"filter":"datum.kind=='bar'"},{"fold":["lo","hi"],"as":["k","y"]}],"mark":{"type":"tick","orient":"horizontal","size":25,"thickness":2.5,"color":"#111","opacity":1}},
{"transform":[{"filter":"datum.kind=='pt'"}],"mark":{"type":"point","filled":true,"opacity":1,"color":"#111","size":150}},
{"transform":[{"filter":"datum.kind=='sig'"}],"mark":{"type":"rule","color":"#111","strokeWidth":3},"encoding":{"x2":{"field":"x2"}}},
{"transform":[{"filter":"datum.kind=='star'"}],"mark":{"type":"text","fontSize":34,"align":"center","baseline":"alphabetic","dy":8},"encoding":{"text":{"field":"t"}}}
]},
{"data":{"values":[
{"kind":"bar","x":1,"group":"Control","y":1.55,"lo":0,"hi":3.24},{"kind":"bar","x":2,"group":"ALI","y":14.83,"lo":11.5,"hi":18.04},{"kind":"bar","x":3,"group":"ALI+ATA","y":3.63,"lo":0.95,"hi":6.2},
{"kind":"pt","x":1,"y":4.7},{"kind":"pt","x":1,"y":1.7},{"kind":"pt","x":0.7,"y":0.86},{"kind":"pt","x":1.27,"y":1.25},{"kind":"pt","x":0.92,"y":0},{"kind":"pt","x":1,"y":1},
{"kind":"pt","x":2,"y":20.4},{"kind":"pt","x":1.86,"y":16.5},{"kind":"pt","x":2.14,"y":16.5},{"kind":"pt","x":1.86,"y":14},{"kind":"pt","x":2.14,"y":13.2},{"kind":"pt","x":2.14,"y":11.7},{"kind":"pt","x":1.86,"y":11},
{"kind":"pt","x":3.13,"y":7},{"kind":"pt","x":2.76,"y":5.8},{"kind":"pt","x":3.26,"y":5},{"kind":"pt","x":2.99,"y":4.1},{"kind":"pt","x":2.74,"y":0.9},{"kind":"pt","x":3.26,"y":0.8},{"kind":"pt","x":3,"y":0},
{"kind":"sig","x":0.65,"x2":1.83,"y":22},{"kind":"sig","x":2.05,"x2":3.34,"y":22.98},
{"kind":"star","x":1.27,"y":22,"t":"***"},{"kind":"star","x":2.71,"y":22.98,"t":"***"}
]},
"encoding":{"x":{"field":"x","type":"quantitative","scale":{"domain":[0.2,3.83],"range":[954,1181],"nice":false,"padding":0},"axis":{"orient":"bottom","offset":-166.2,"values":[1,2,3],"labelExpr":"['Control','ALI','ALI+ ATA'][datum.value-1]","labelAngle":-45,"labelAlign":"right","labelBaseline":"top","labelFontSize":37,"labelPadding":12,"labelOffset":-5,"title":null}},
"y":{"field":"y","type":"quantitative","stack":null,"scale":{"domain":[0,25],"range":[1707.8,1367.8],"nice":false},"axis":{"orient":"left","offset":-954,"values":[0,5,10,15,20,25],"title":["Macrophages in BALF","(1×10⁴)"],"titleLineHeight":50,"titleX":-140,"titleY":1540}}},
"layer":[
{"transform":[{"filter":"datum.kind=='bar'"}],"mark":{"type":"bar","orient":"vertical","width":51,"stroke":"#111","strokeWidth":3},"encoding":{"fill":{"field":"group","type":"nominal","legend":null,"scale":{"domain":["Control","ATA","ALI","ALI+ATA"],"range":["#0000b8","#8aa9d6","#f2b77a","#fa4040"]}}}},
{"transform":[{"filter":"datum.kind=='bar'"}],"mark":{"type":"rule","color":"#111","strokeWidth":2.5},"encoding":{"y2":{"field":"hi"}}},
{"transform":[{"filter":"datum.kind=='bar'"}],"mark":{"type":"rule","color":"#111","strokeWidth":2.5},"encoding":{"y2":{"field":"lo"}}},
{"transform":[{"filter":"datum.kind=='bar'"},{"fold":["lo","hi"],"as":["k","y"]}],"mark":{"type":"tick","orient":"horizontal","size":25,"thickness":2.5,"color":"#111","opacity":1}},
{"transform":[{"filter":"datum.kind=='pt'"}],"mark":{"type":"point","filled":true,"opacity":1,"color":"#111","size":150}},
{"transform":[{"filter":"datum.kind=='sig'"}],"mark":{"type":"rule","color":"#111","strokeWidth":3},"encoding":{"x2":{"field":"x2"}}},
{"transform":[{"filter":"datum.kind=='star'"}],"mark":{"type":"text","fontSize":34,"align":"center","baseline":"alphabetic","dy":8},"encoding":{"text":{"field":"t"}}}
]},
{"data":{"values":[
{"kind":"bar","x":1,"group":"Control","y":23,"lo":18,"hi":27.8},{"kind":"bar","x":2,"group":"ALI","y":83.5,"lo":52,"hi":113.4},{"kind":"bar","x":3,"group":"ALI+ATA","y":15.5,"lo":8,"hi":23.5},
{"kind":"pt","x":0.88,"y":30},{"kind":"pt","x":1.15,"y":28},{"kind":"pt","x":1.31,"y":25},{"kind":"pt","x":0.73,"y":21},{"kind":"pt","x":1.15,"y":19.5},{"kind":"pt","x":0.88,"y":16},
{"kind":"pt","x":2,"y":150},{"kind":"pt","x":2,"y":85},{"kind":"pt","x":1.87,"y":80},{"kind":"pt","x":1.75,"y":71},{"kind":"pt","x":2.14,"y":71},{"kind":"pt","x":2.27,"y":63.5},{"kind":"pt","x":2,"y":60.6},
{"kind":"pt","x":3,"y":32.6},{"kind":"pt","x":3.01,"y":19.5},{"kind":"pt","x":3.14,"y":16},{"kind":"pt","x":2.76,"y":12},{"kind":"pt","x":3.16,"y":11},{"kind":"pt","x":2.91,"y":9},{"kind":"pt","x":3.06,"y":10},
{"kind":"sig","x":0.65,"x2":1.86,"y":172.4},{"kind":"sig","x":2,"x2":3.09,"y":183.8},
{"kind":"star","x":1.42,"y":172.4,"t":"***"},{"kind":"star","x":2.67,"y":183.8,"t":"***"}
]},
"encoding":{"x":{"field":"x","type":"quantitative","scale":{"domain":[0.23,3.8],"range":[1332.5,1558],"nice":false,"padding":0},"axis":{"orient":"bottom","offset":-166.2,"values":[1,2,3],"labelExpr":"['Control','ALI','ALI+ ATA'][datum.value-1]","labelAngle":-45,"labelAlign":"right","labelBaseline":"top","labelFontSize":37,"labelPadding":12,"labelOffset":-5,"title":null}},
"y":{"field":"y","type":"quantitative","stack":null,"scale":{"domain":[0,200],"range":[1707.8,1367.8],"nice":false},"axis":{"orient":"left","offset":-1332.5,"values":[0,50,100,150,200],"title":"Neutrophil in BALF (1×10⁴)","titleFontSize":38,"titleX":-115,"titleY":1541}}},
"layer":[
{"transform":[{"filter":"datum.kind=='bar'"}],"mark":{"type":"bar","orient":"vertical","width":51,"stroke":"#111","strokeWidth":3},"encoding":{"fill":{"field":"group","type":"nominal","legend":null,"scale":{"domain":["Control","ATA","ALI","ALI+ATA"],"range":["#0000b8","#8aa9d6","#f2b77a","#fa4040"]}}}},
{"transform":[{"filter":"datum.kind=='bar'"}],"mark":{"type":"rule","color":"#111","strokeWidth":2.5},"encoding":{"y2":{"field":"hi"}}},
{"transform":[{"filter":"datum.kind=='bar'"}],"mark":{"type":"rule","color":"#111","strokeWidth":2.5},"encoding":{"y2":{"field":"lo"}}},
{"transform":[{"filter":"datum.kind=='bar'"},{"fold":["lo","hi"],"as":["k","y"]}],"mark":{"type":"tick","orient":"horizontal","size":25,"thickness":2.5,"color":"#111","opacity":1}},
{"transform":[{"filter":"datum.kind=='pt'"}],"mark":{"type":"point","filled":true,"opacity":1,"color":"#111","size":150}},
{"transform":[{"filter":"datum.kind=='sig'"}],"mark":{"type":"rule","color":"#111","strokeWidth":3},"encoding":{"x2":{"field":"x2"}}},
{"transform":[{"filter":"datum.kind=='star'"}],"mark":{"type":"text","fontSize":34,"align":"center","baseline":"alphabetic","dy":8},"encoding":{"text":{"field":"t"}}}
]},
{"data":{"values":[
{"kind":"bar","x":1,"group":"Control","y":8.1,"lo":7,"hi":9.2},{"kind":"bar","x":2,"group":"ALI","y":23.7,"lo":19.1,"hi":28.3},{"kind":"bar","x":3,"group":"ALI+ATA","y":16.4,"lo":9.3,"hi":23.5},
{"kind":"pt","x":1,"y":10.3},{"kind":"pt","x":0.75,"y":8.7},{"kind":"pt","x":1.25,"y":8.5},{"kind":"pt","x":0.9,"y":7.8},{"kind":"pt","x":1.1,"y":7.7},{"kind":"pt","x":1,"y":6.6},{"kind":"pt","x":0.85,"y":7.3},{"kind":"pt","x":1.2,"y":7.3},
{"kind":"pt","x":1.86,"y":27},{"kind":"pt","x":2.14,"y":27},{"kind":"pt","x":1.6,"y":26},{"kind":"pt","x":2.39,"y":25.9},{"kind":"pt","x":1.74,"y":24.3},{"kind":"pt","x":2,"y":24.7},{"kind":"pt","x":2.27,"y":24.4},{"kind":"pt","x":2,"y":22.4},{"kind":"pt","x":2,"y":12},
{"kind":"pt","x":3.14,"y":27},{"kind":"pt","x":2.87,"y":26.2},{"kind":"pt","x":2.87,"y":21.8},{"kind":"pt","x":3.14,"y":21.1},{"kind":"pt","x":3,"y":16.5},{"kind":"pt","x":2.87,"y":12.3},{"kind":"pt","x":3.14,"y":11.5},{"kind":"pt","x":2.74,"y":10},{"kind":"pt","x":3.27,"y":9},{"kind":"pt","x":3,"y":8.4},
{"kind":"sig","x":0.54,"x2":1.87,"y":34.2},{"kind":"sig","x":2.02,"x2":3.14,"y":37.1},
{"kind":"star","x":1.19,"y":34.2,"t":"***"},{"kind":"star","x":2.59,"y":37.1,"t":"*"}
]},
"encoding":{"x":{"field":"x","type":"quantitative","scale":{"domain":[0.22,3.81],"range":[1690,1916],"nice":false,"padding":0},"axis":{"orient":"bottom","offset":-160,"values":[1,2,3],"labelExpr":"['Control','ALI','ALI+ATA'][datum.value-1]","labelAngle":-45,"labelAlign":"right","labelBaseline":"top","labelFontSize":36.5,"labelPadding":10,"labelOffset":-5,"title":null}},
"y":{"field":"y","type":"quantitative","stack":null,"scale":{"domain":[0,40],"range":[1714,1374],"nice":false},"axis":{"orient":"left","offset":-1690,"values":[0,10,20,30,40],"title":"MPO activity (U/g lung)","titleFontSize":38,"titleX":-92.5,"titleY":1547}}},
"layer":[
{"transform":[{"filter":"datum.kind=='bar'"}],"mark":{"type":"bar","orient":"vertical","width":51,"stroke":"#111","strokeWidth":3},"encoding":{"fill":{"field":"group","type":"nominal","legend":null,"scale":{"domain":["Control","ATA","ALI","ALI+ATA"],"range":["#0000b8","#8aa9d6","#f2b77a","#fa4040"]}}}},
{"transform":[{"filter":"datum.kind=='bar'"}],"mark":{"type":"rule","color":"#111","strokeWidth":2.5},"encoding":{"y2":{"field":"hi"}}},
{"transform":[{"filter":"datum.kind=='bar'"}],"mark":{"type":"rule","color":"#111","strokeWidth":2.5},"encoding":{"y2":{"field":"lo"}}},
{"transform":[{"filter":"datum.kind=='bar'"},{"fold":["lo","hi"],"as":["k","y"]}],"mark":{"type":"tick","orient":"horizontal","size":29,"thickness":2.5,"color":"#111","opacity":1}},
{"transform":[{"filter":"datum.kind=='pt'"}],"mark":{"type":"point","filled":true,"opacity":1,"color":"#111","size":150}},
{"transform":[{"filter":"datum.kind=='sig'"}],"mark":{"type":"rule","color":"#111","strokeWidth":3},"encoding":{"x2":{"field":"x2"}}},
{"transform":[{"filter":"datum.kind=='star'"}],"mark":{"type":"text","fontSize":34,"align":"center","baseline":"alphabetic","dy":8},"encoding":{"text":{"field":"t"}}}
]}
]}
